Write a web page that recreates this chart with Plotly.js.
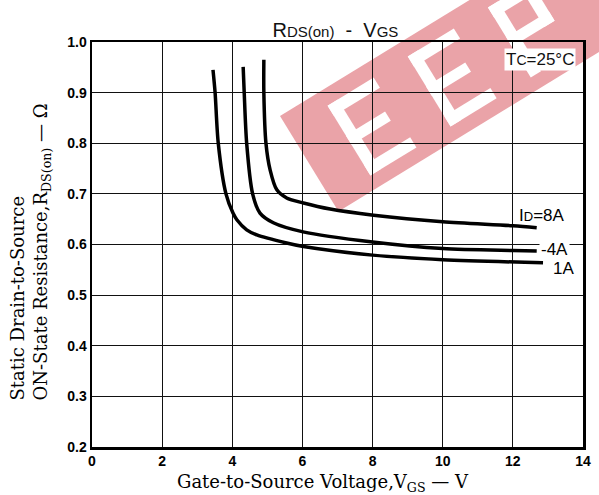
<!DOCTYPE html>
<html><head><meta charset="utf-8">
<script src="https://cdn.plot.ly/plotly-3.0.1.min.js"></script>
<style>html,body{margin:0;padding:0;background:#fff}</style>
</head><body>
<div id="chart" style="width:599px;height:495px"></div>
<script>
// I_D = 1A
const vgs1 = [3.45, 3.51, 3.6, 3.82, 4.02, 4.13, 4.41, 4.7, 5.55, 6.03, 8.0, 10.0, 12.86];
const r1   = [0.945, 0.9, 0.8, 0.7, 0.662, 0.649, 0.629, 0.619, 0.603, 0.596, 0.579, 0.57, 0.564];
// I_D = 4A
const vgs4 = [4.31, 4.34, 4.41, 4.58, 4.79, 5.17, 6.02, 8.0, 10.0, 12.0, 12.68];
const r4   = [0.951, 0.9, 0.8, 0.7, 0.662, 0.643, 0.625, 0.605, 0.592, 0.588, 0.587];
// I_D = 8A
const vgs8 = [4.9, 4.9, 4.96, 5.08, 5.27, 5.55, 6.03, 6.79, 8.03, 10.0, 12.0, 12.68];
const r8   = [0.965, 0.9, 0.8, 0.747, 0.708, 0.692, 0.682, 0.670, 0.658, 0.645, 0.637, 0.633];

const xTicks = [0, 2, 4, 6, 8, 10, 12, 14];
const yTicks = [0.2, 0.3, 0.4, 0.5, 0.6, 0.7, 0.8, 0.9, 1.0];
const yTickText = ['0.2', '0.3', '0.4', '0.5', '0.6', '0.7', '0.8', '0.9', '1.0'];

const lineStyle = {color: '#000', width: 3.5, shape: 'spline', smoothing: 0.8};
const traces = [
  {x: vgs1, y: r1, mode: 'lines', line: lineStyle, name: '1A', showlegend: false, hoverinfo: 'skip'},
  {x: vgs4, y: r4, mode: 'lines', line: lineStyle, name: '4A', showlegend: false, hoverinfo: 'skip'},
  {x: vgs8, y: r8, mode: 'lines', line: lineStyle, name: '8A', showlegend: false, hoverinfo: 'skip'}
];

const sans = 'Liberation Sans, Arial, sans-serif';
const tickFont = {family: sans, size: 14, color: '#000', weight: 'bold'};
const serif = 'DejaVu Serif, Liberation Serif, serif';

// decorative watermark (band with letter cut-outs), in paper coordinates
const L = 92, R = 583, T = 42, B = 447;
function P(px, py) { return [(px - L) / (R - L), (B - py) / (B - T)]; }
const A0 = [280, 116], du = [0.853, -0.522], dv = [0.522, 0.853];
function UV(u, v) { return P(A0[0] + u * du[0] + v * dv[0], A0[1] + u * du[1] + v * dv[1]); }
function poly(pts) { return 'M' + pts.map(p => { const q = UV(p[0], p[1]); return q[0].toFixed(4) + ',' + q[1].toFixed(4); }).join(' L') + ' Z'; }
function rect(u0, u1, v0, v1) { return poly([[u0, v0], [u1, v0], [u1, v1], [u0, v1]]); }
const shapes = [
  {type: 'path', xref: 'paper', yref: 'paper', layer: 'below', path: rect(0, 460, 0, 112), fillcolor: '#eaa3a8', line: {width: 0}}
];
const holes = [
  rect(46, 58, 16, 98), rect(46, 100, 16, 28), rect(46, 92, 51, 62), rect(46, 100, 86, 98),
  rect(140, 152, 16, 98), rect(140, 194, 16, 28), rect(140, 186, 51, 62), rect(140, 194, 86, 98),
  rect(234, 246, 16, 98), rect(234, 284, 16, 28), rect(234, 284, 51, 62), rect(272, 284, 16, 62)
];
holes.forEach(h => shapes.push({type: 'path', xref: 'paper', yref: 'paper', layer: 'below', path: h, fillcolor: '#fff', line: {width: 0}}));

const layout = {
  width: 599, height: 495,
  margin: {l: 92, r: 16, t: 42, b: 48},
  paper_bgcolor: '#fff', plot_bgcolor: 'rgba(0,0,0,0)',
  title: {text: 'R<span style="font-size:15px">DS(on)</span>  -  V<span style="font-size:15px">GS</span>',
          font: {family: sans, size: 20, color: '#111'},
          x: 0.56, xanchor: 'center', y: 0.939, yanchor: 'middle'},
  xaxis: {
    range: [0, 14], tickvals: xTicks, ticktext: xTicks.map(String),
    showgrid: true, gridcolor: '#111', gridwidth: 1,
    showline: true, linecolor: '#000', linewidth: 2.5, mirror: true,
    ticks: '', tickfont: tickFont, zeroline: false
  },
  yaxis: {
    range: [0.2, 1.0], tickvals: yTicks, ticktext: yTickText,
    showgrid: true, gridcolor: '#111', gridwidth: 1,
    showline: true, linecolor: '#000', linewidth: 2.5, mirror: true,
    ticks: '', tickfont: tickFont, zeroline: false
  },
  shapes: shapes,
  annotations: [
    {x: 0.169, y: -0.089, xref: 'paper', yref: 'paper', xanchor: 'left', yanchor: 'middle', showarrow: false,
     text: 'Gate-to-Source Voltage,V<sub>GS</sub> — V', font: {family: serif, size: 18, color: '#000'}},
    {x: -0.126, y: 0.109, xref: 'paper', yref: 'paper', xanchor: 'center', yanchor: 'bottom', textangle: -90, showarrow: false, align: 'left',
     text: 'Static Drain-to-Source<br>ON-State Resistance,R<sub>DS(on)</sub> — Ω', font: {family: serif, size: 18, color: '#000'}},
    {x: 13.8, y: 0.965, xref: 'x', yref: 'y', xanchor: 'right', yanchor: 'middle', showarrow: false,
     text: 'T<span style="font-size:14px">C</span>=25°C', font: {family: sans, size: 17, color: '#111'}, bgcolor: '#fff'},
    {x: 12.12, y: 0.658, xref: 'x', yref: 'y', xanchor: 'left', yanchor: 'middle', showarrow: false,
     text: 'I<span style="font-size:13px">D</span>=8A', font: {family: sans, size: 17, color: '#000'}},
    {x: 12.74, y: 0.591, xref: 'x', yref: 'y', xanchor: 'left', yanchor: 'middle', showarrow: false,
     text: '-4A', font: {family: sans, size: 17, color: '#000'}, bgcolor: '#fff'},
    {x: 13.1, y: 0.553, xref: 'x', yref: 'y', xanchor: 'left', yanchor: 'middle', showarrow: false,
     text: '1A', font: {family: sans, size: 17, color: '#000'}}
  ]
};

Plotly.newPlot('chart', traces, layout, {displayModeBar: false, staticPlot: true});
</script>
</body></html>
